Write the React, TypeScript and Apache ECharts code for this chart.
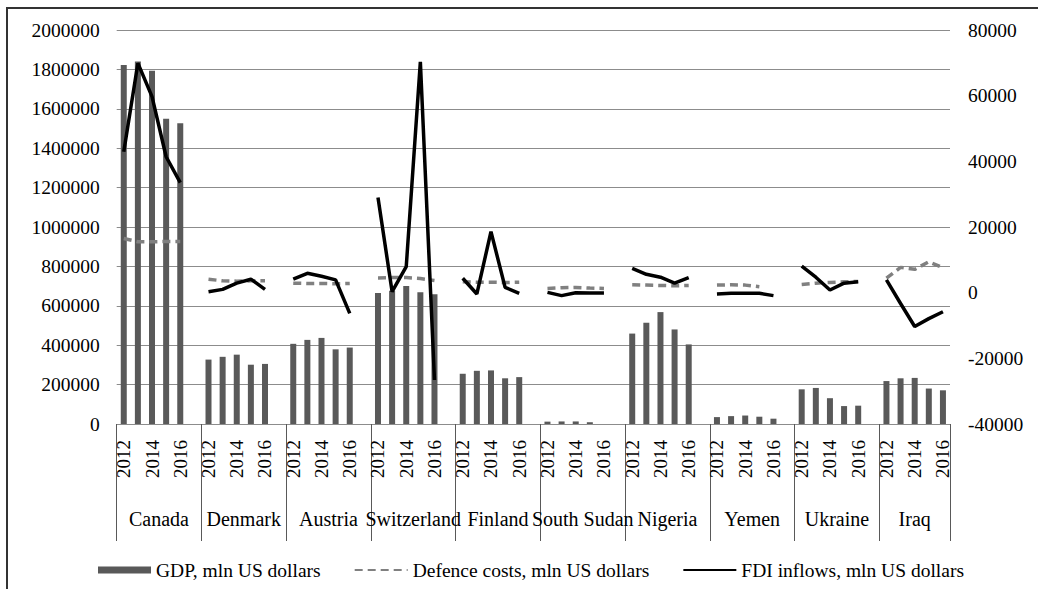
import React, { useEffect, useRef } from "react";
import * as echarts from "echarts";

const countries = ["Canada", "Denmark", "Austria", "Switzerland", "Finland", "South Sudan", "Nigeria", "Yemen", "Ukraine", "Iraq"];
const years = ["2012", "2013", "2014", "2015", "2016"];

// GDP, mln US dollars (left axis)
const gdp: (number | null)[][] = [
  [1822000, 1840000, 1793000, 1550000, 1527000],
  [327000, 341000, 352000, 301000, 305000],
  [407000, 427000, 437000, 379000, 388000],
  [665000, 677000, 701000, 669000, 659000],
  [255000, 270000, 272000, 232000, 238000],
  [12000, 13000, 13000, 9000, null],
  [459000, 514000, 568000, 480000, 404000],
  [35000, 40000, 43000, 37000, 27000],
  [176000, 183000, 131000, 91000, 93000],
  [218000, 232000, 234000, 180000, 171000],
];

// Defence costs, mln US dollars (right axis)
const defence: (number | null)[][] = [
  [16500, 15500, 15500, 15600, 15600],
  [4100, 3600, 3500, 3600, 3600],
  [2900, 2800, 2800, 2700, 2800],
  [4500, 4600, 4600, 4300, 3700],
  [3300, 3200, 3200, 3100, 3200],
  [1300, 1500, 1600, 1400, 1300],
  [2400, 2300, 2200, 2100, 2200],
  [2300, 2400, 2300, 1800, null],
  [2500, 2900, 3100, 3300, 3400],
  [4400, 7700, 7100, 9400, 7600],
];

// FDI inflows, mln US dollars (right axis)
const fdi: (number | null)[][] = [
  [42900, 69900, 59700, 41400, 33500],
  [300, 1000, 2900, 4100, 1000],
  [4100, 5900, 5000, 3900, -6300],
  [29000, 300, 7900, 70300, -26600],
  [4400, -400, 18600, 1600, -200],
  [100, -900, 0, -100, -100],
  [7400, 5600, 4700, 2900, 4600],
  [-400, -200, -200, -200, -900],
  [8100, 4700, 800, 2900, 3300],
  [3900, -3300, -10300, -7900, -5800],
];

const GDP_NAME = "GDP, mln US dollars";
const DEF_NAME = "Defence costs, mln US dollars";
const FDI_NAME = "FDI inflows, mln US dollars";
const FONT = "Liberation Serif";

function flatten(rows: (number | null)[][]) {
  const out: (number | null)[] = [];
  rows.forEach((r, i) => {
    r.forEach((v) => out.push(v));
    if (i < rows.length - 1) out.push(null);
  });
  return out;
}

function categories() {
  const out: string[] = [];
  countries.forEach((c, i) => {
    years.forEach((y) => out.push(c + "|" + y));
    if (i < countries.length - 1) out.push(c + "|");
  });
  return out;
}

export default function App() {
  const ref = useRef<HTMLDivElement>(null);
  useEffect(() => {
    document.body.style.margin = "0";
    if (!ref.current) return;
    const chart = echarts.init(ref.current, null, { renderer: "svg" });
    const cats = categories();
    const option: any = {
      animation: false,
      backgroundColor: "#fff",
      textStyle: { fontFamily: FONT, color: "#000" },
      grid: { left: 116.7, right: 88, top: 30, bottom: 165, containLabel: false },
      legend: {
        data: [
          { name: GDP_NAME, icon: "rect" },
          { name: DEF_NAME, itemStyle: { opacity: 0 } },
          { name: FDI_NAME, itemStyle: { opacity: 0 } },
        ],
        left: 93,
        top: 555,
        itemWidth: 53,
        itemHeight: 7,
        itemGap: 33,
        textStyle: { fontFamily: FONT, fontSize: 19.5, color: "#000" },
      },
      graphic: [
        {
          type: "rect",
          shape: { x: 7, y: 8, width: 1100, height: 700 },
          style: { fill: "none", stroke: "#333", lineWidth: 2 },
          silent: true,
        },
      ],
      xAxis: [
        {
          type: "category",
          data: cats,
          position: "bottom",
          boundaryGap: true,
          axisLine: { show: true, lineStyle: { color: "#8c8c8c", width: 1 } },
          axisTick: {
            show: true,
            interval: (i: number) => i % 6 === 0,
            length: 117,
            lineStyle: { color: "#595959", width: 1 },
          },
          axisLabel: {
            interval: 0,
            rotate: 90,
            margin: 16,
            fontFamily: FONT,
            fontSize: 19,
            color: "#000",
            formatter: (v: string) => {
              const y = v.split("|")[1];
              return y === "2012" || y === "2014" || y === "2016" ? y : "";
            },
          },
          splitLine: { show: false },
        },
        {
          type: "category",
          data: cats,
          position: "bottom",
          boundaryGap: true,
          axisLine: { show: false },
          axisTick: { show: false },
          axisLabel: {
            interval: 0,
            margin: 85,
            fontFamily: FONT,
            fontSize: 20,
            color: "#000",
            formatter: (v: string, idx: number) => {
              if (idx % 6 !== 2) return "";
              const c = v.split("|")[0];
              const last = countries.indexOf(c) === countries.length - 1;
              return last ? "{n|" + c + "}" : "{s|" + c + "}";
            },
            rich: {
              s: { fontFamily: FONT, fontSize: 20, color: "#000", padding: [0, 0, 0, 14] },
              n: { fontFamily: FONT, fontSize: 20, color: "#000" },
            },
          },
          splitLine: { show: false },
        },
      ],
      yAxis: [
        {
          type: "value",
          min: 0,
          max: 2000000,
          interval: 200000,
          position: "left",
          axisLine: { show: false },
          axisTick: { show: false },
          axisLabel: { margin: 17, fontFamily: FONT, fontSize: 19.5, color: "#000", formatter: (v: number) => String(v) },
          splitLine: { show: true, lineStyle: { color: "#8c8c8c", width: 1 } },
        },
        {
          type: "value",
          min: -40000,
          max: 80000,
          interval: 20000,
          position: "right",
          axisLine: { show: false },
          axisTick: { show: false },
          axisLabel: { margin: 18, fontFamily: FONT, fontSize: 19.5, color: "#000", formatter: (v: number) => String(v) },
          splitLine: { show: false },
        },
      ],
      series: [
        {
          name: GDP_NAME,
          type: "bar",
          xAxisIndex: 0,
          yAxisIndex: 0,
          barWidth: 6,
          itemStyle: { color: "#595959" },
          data: flatten(gdp),
        },
        {
          name: DEF_NAME,
          type: "line",
          xAxisIndex: 0,
          yAxisIndex: 1,
          symbol: "none",
          connectNulls: false,
          lineStyle: { color: "#808080", width: 3.5, type: [8, 5] },
          itemStyle: { color: "#808080" },
          data: flatten(defence),
        },
        {
          name: FDI_NAME,
          type: "line",
          xAxisIndex: 0,
          yAxisIndex: 1,
          symbol: "none",
          connectNulls: false,
          lineStyle: { color: "#000", width: 3.5 },
          itemStyle: { color: "#000" },
          data: flatten(fdi),
        },
      ],
    };
    chart.setOption(option);
    return () => chart.dispose();
  }, []);
  return <div ref={ref} style={{ width: 1038, height: 589 }} />;
}
